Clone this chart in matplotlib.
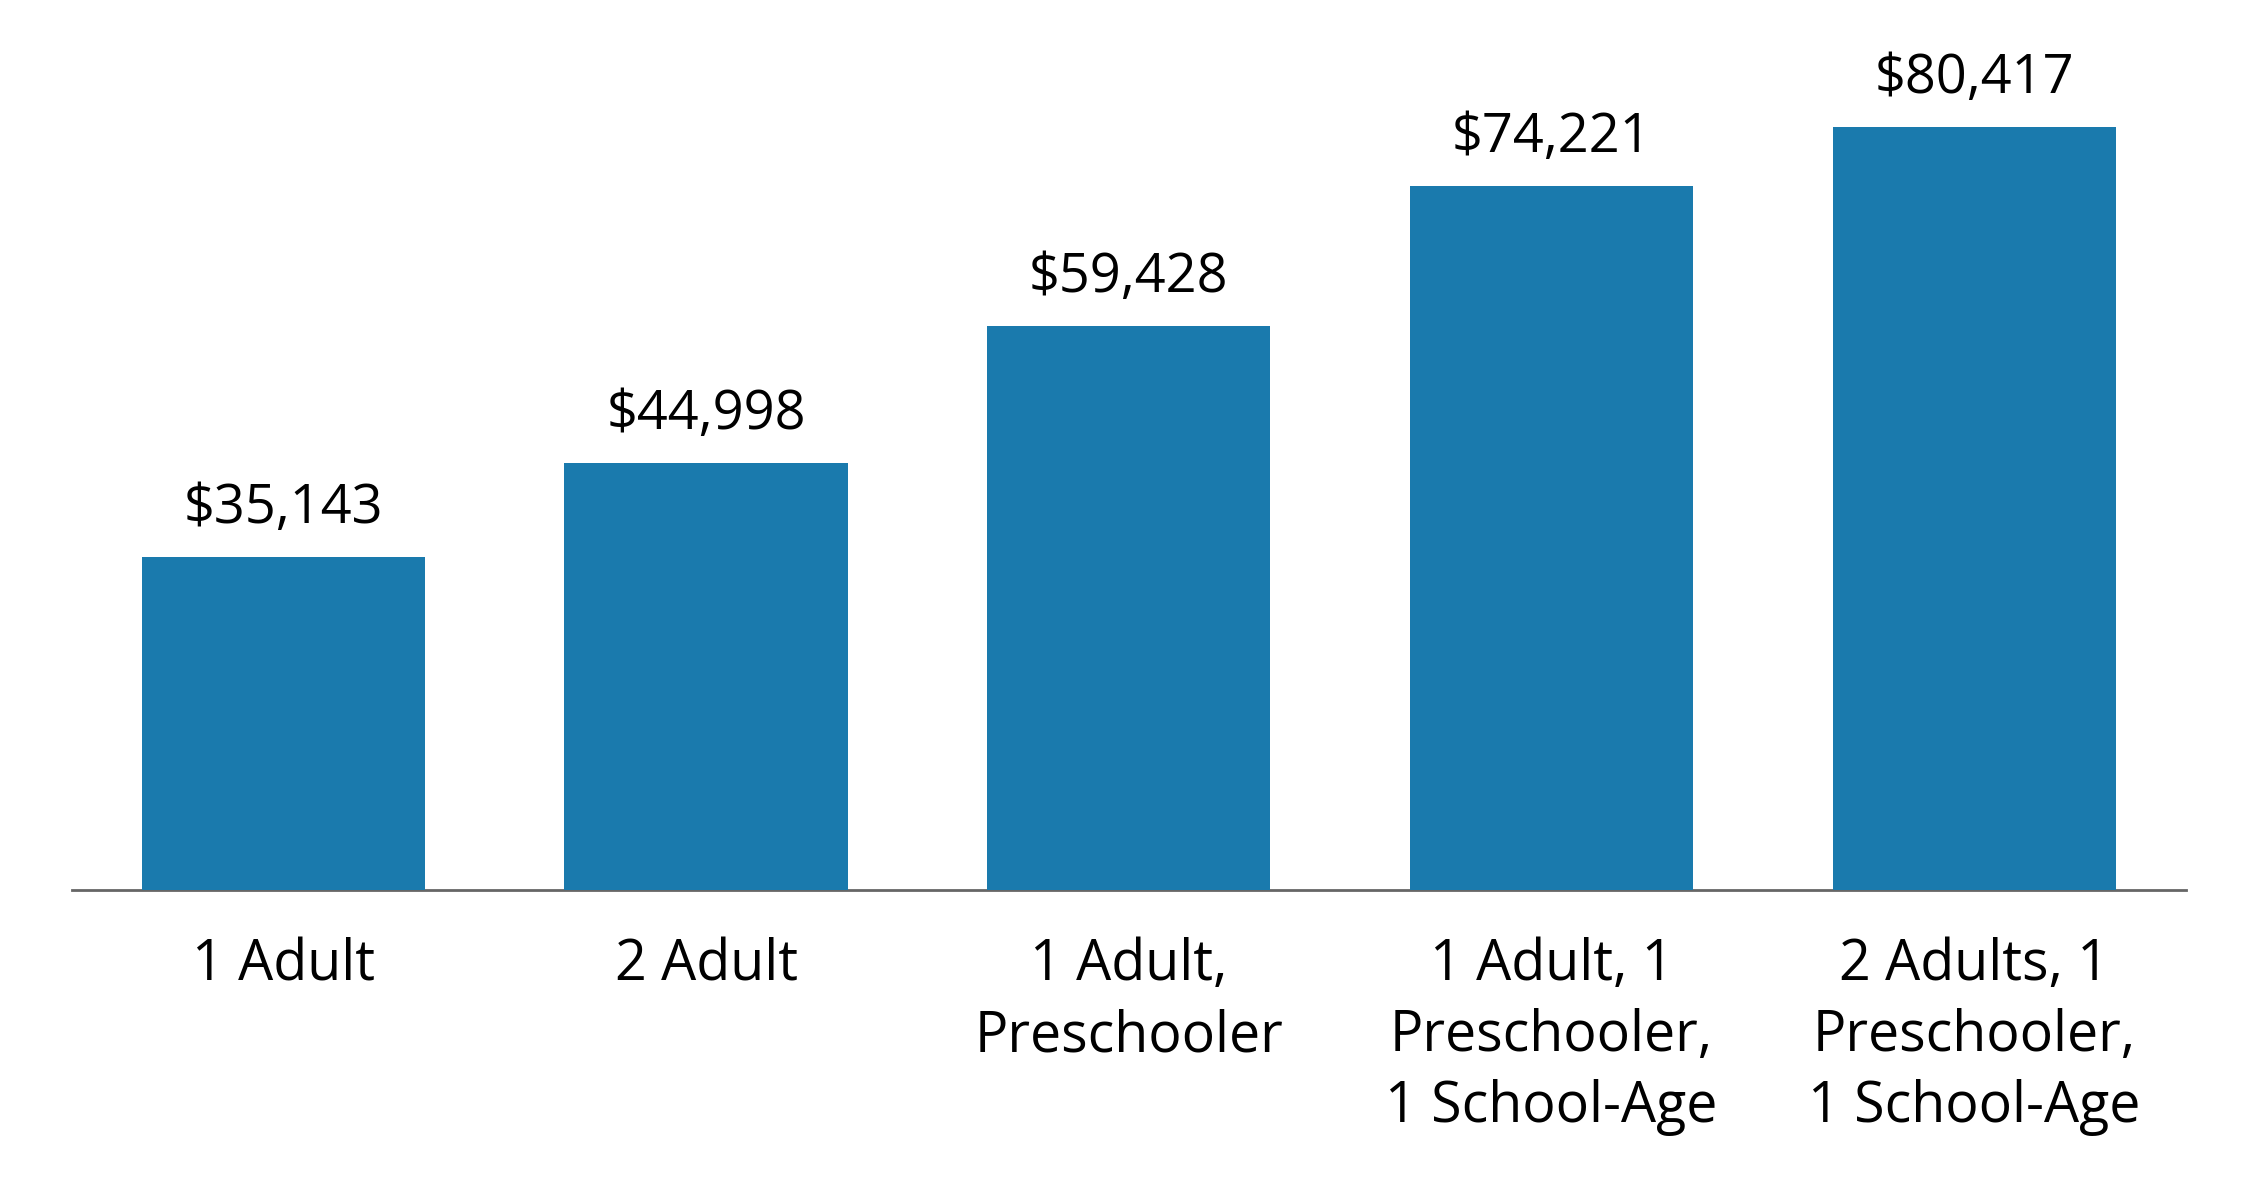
import matplotlib
matplotlib.use("Agg")
import matplotlib.pyplot as plt

plt.rcParams['font.family'] = ['Open Sans', 'DejaVu Sans']

categories = ["1 Adult", "2 Adult", "1 Adult,\nPreschooler",
              "1 Adult, 1\nPreschooler,\n1 School-Age",
              "2 Adults, 1\nPreschooler,\n1 School-Age"]
values = [35143, 44998, 59428, 74221, 80417]
value_labels = ["$35,143", "$44,998", "$59,428", "$74,221", "$80,417"]

fig = plt.figure(figsize=(22.58, 12.03), dpi=100)
ax = fig.add_axes([0.0319, 0.260, 0.936, 0.740])

x = range(len(values))
bars = ax.bar(x, values, width=0.67, color='#1a7aad', zorder=2)

for b, lab in zip(bars, value_labels):
    ax.annotate(lab, (b.get_x() + b.get_width() / 2, b.get_height()),
                xytext=(0, 15), textcoords='offset points',
                ha='center', va='bottom', fontsize=39, color='black')

ax.set_xlim(-0.5, 4.5)
ax.set_ylim(0, 93800)
ax.set_xticks(list(x))
ax.set_xticklabels(categories, fontsize=40, linespacing=1.32)
ax.tick_params(axis='x', length=0, pad=34)
ax.set_yticks([])
for s in ['top', 'right', 'left']:
    ax.spines[s].set_visible(False)
ax.spines['bottom'].set_color('#666666')
ax.spines['bottom'].set_linewidth(2)
ax.spines['bottom'].set_zorder(1)

fig.savefig("out.png", dpi=100)
